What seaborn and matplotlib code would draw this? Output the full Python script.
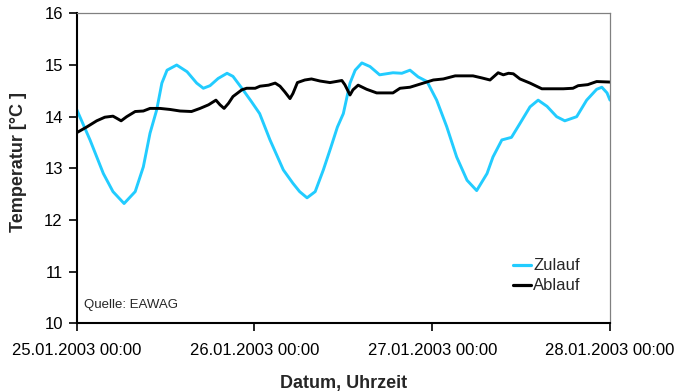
import pandas as pd
import matplotlib.pyplot as plt
import seaborn as sns

# hours since 25.01.2003 00:00
zulauf_h = [0, 1.8, 3.6, 4.9, 6.4, 7.9, 9.0, 9.9, 10.8, 11.5, 12.2, 13.5, 14.9, 16.2,
            17.1, 18.0, 19.1, 20.3, 21.1, 22.3, 23.6, 24.7, 26.1, 27.9, 29.2, 30.1,
            31.1, 32.2, 33.3, 34.3, 35.2, 36.0, 36.9, 37.6, 38.5, 39.6, 40.9, 42.7,
            43.9, 45.0, 46.1, 47.3, 48.6, 49.95, 51.3, 52.7, 54.0, 55.4, 56.2, 57.4,
            58.7, 59.85, 61.2, 62.3, 63.5, 64.8, 65.9, 67.5, 68.85, 70.2, 70.9, 71.6, 72]
zulauf_t = [14.14, 13.55, 12.9, 12.55, 12.32, 12.55, 13.03, 13.68, 14.13, 14.65, 14.9,
            15.0, 14.87, 14.65, 14.55, 14.6, 14.74, 14.84, 14.78, 14.55, 14.29, 14.06,
            13.55, 12.97, 12.71, 12.55, 12.43, 12.55, 12.97, 13.4, 13.8, 14.06, 14.65,
            14.9, 15.04, 14.97, 14.81, 14.85, 14.84, 14.9, 14.77, 14.68, 14.32, 13.81,
            13.22, 12.77, 12.57, 12.9, 13.22, 13.55, 13.6, 13.87, 14.19, 14.32, 14.2,
            14.0, 13.92, 14.0, 14.32, 14.53, 14.57, 14.46, 14.32]

ablauf_h = [0, 1.35, 2.7, 3.8, 4.9, 5.4, 6.0, 6.75, 7.9, 9.0, 9.9, 11.25, 12.6, 13.95,
            15.5, 16.65, 17.8, 18.8, 19.35, 19.9, 20.5, 21.1, 22.3, 22.95, 24.1, 24.75,
            25.9, 26.8, 27.45, 28.1, 28.8, 29.2, 29.8, 30.8, 31.7, 32.85, 34.2, 35.8,
            36.2, 36.9, 37.3, 38.0, 39.15, 40.5, 42.7, 43.65, 45.0, 46.35, 48.15, 49.5,
            51.1, 53.5, 54.7, 55.8, 56.9, 57.6, 58.3, 58.95, 59.85, 61.2, 62.8, 65.7,
            67.0, 67.7, 69.0, 70.2, 72]
ablauf_t = [13.69, 13.8, 13.92, 13.99, 14.01, 13.97, 13.92, 14.0, 14.1, 14.11, 14.16,
            14.16, 14.14, 14.11, 14.1, 14.16, 14.23, 14.32, 14.23, 14.16, 14.26, 14.39,
            14.52, 14.55, 14.55, 14.59, 14.61, 14.65, 14.59, 14.48, 14.35, 14.45, 14.66,
            14.71, 14.73, 14.69, 14.66, 14.70, 14.62, 14.42, 14.52, 14.61, 14.53, 14.46,
            14.46, 14.55, 14.57, 14.63, 14.71, 14.73, 14.79, 14.79, 14.75, 14.71, 14.85,
            14.81, 14.84, 14.83, 14.73, 14.65, 14.54, 14.54, 14.55, 14.6, 14.62, 14.68,
            14.67]

day_ticks = [0, 24, 48, 72]
day_labels = ["25.01.2003 00:00", "26.01.2003 00:00", "27.01.2003 00:00", "28.01.2003 00:00"]

df = pd.concat([
    pd.DataFrame({"Stunden": zulauf_h, "Temperatur": zulauf_t, "Serie": "Zulauf"}),
    pd.DataFrame({"Stunden": ablauf_h, "Temperatur": ablauf_t, "Serie": "Ablauf"}),
])

sns.set_theme(style="white")
plt.rcParams["font.family"] = ["Liberation Sans", "DejaVu Sans"]

fig = plt.figure(figsize=(6.75, 3.92), dpi=100)
ax = fig.add_axes([0.1136, 0.175, 0.7901, 0.791])

sns.lineplot(data=df, x="Stunden", y="Temperatur", hue="Serie",
             palette={"Zulauf": "#22CCFF", "Ablauf": "black"},
             estimator=None, sort=True, linewidth=2.1, ax=ax)

ax.set_xlim(0, 72)
ax.set_ylim(10, 16)
ax.set_xticks(day_ticks)
ax.set_xticklabels(day_labels)
ax.set_yticks(range(10, 17))

ax.tick_params(axis="both", which="both", direction="out", length=6, width=1.2,
               color="black", labelsize=12, labelcolor="black")
ax.tick_params(axis="x", pad=8, bottom=True)
ax.tick_params(axis="y", pad=4, left=True)

for side in ["left", "bottom"]:
    ax.spines[side].set_color("black")
    ax.spines[side].set_linewidth(1.5)
for side in ["top", "right"]:
    ax.spines[side].set_color("#808080")
    ax.spines[side].set_linewidth(0.9)

ax.set_xlabel("Datum, Uhrzeit", fontsize=13, fontweight="bold", labelpad=12)
ax.set_ylabel("Temperatur [°C ]", fontsize=13, fontweight="bold")
ax.yaxis.set_label_coords(-0.094, 0.521)

ax.text(0.013, 0.058, "Quelle: EAWAG", transform=ax.transAxes, fontsize=9.5,
        ha="left", va="center")

leg = ax.legend(loc="center left", bbox_to_anchor=(0.818, 0.153), frameon=False,
                fontsize=12, handlelength=1.1, handletextpad=0.12,
                labelspacing=0.3, borderpad=0, borderaxespad=0)
for line in leg.get_lines():
    line.set_linewidth(2.3)

fig.savefig("out.png", dpi=100)
plt.close(fig)
